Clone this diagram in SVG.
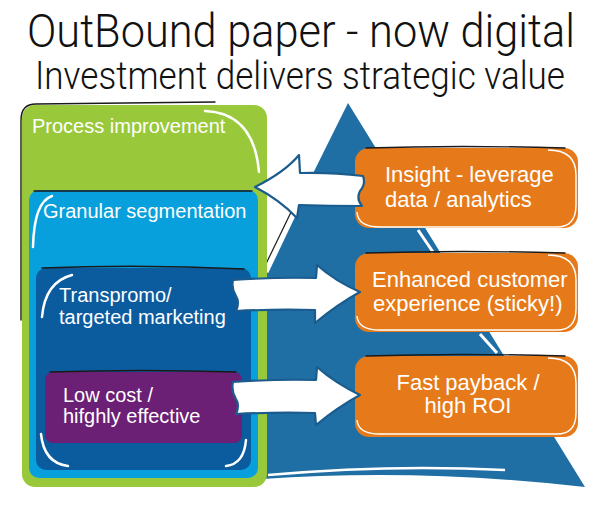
<svg xmlns="http://www.w3.org/2000/svg" width="600" height="509" viewBox="0 0 600 509">
<style>
.title{font-family:Roboto,"Open Sans","DejaVu Sans",sans-serif;font-weight:300;fill:#111;}
.lbl{font-family:"Liberation Sans",Arial,sans-serif;fill:#fff;font-size:20px;}
.olbl{font-family:"Liberation Sans",Arial,sans-serif;fill:#fff;font-size:22px;}
.gloss{fill:none;stroke:#fff;stroke-width:2.5;stroke-linecap:round;}
.shade{fill:none;stroke:#1a1a1a;stroke-width:1.4;stroke-linecap:round;}
.arrow{fill:#fff;stroke:#1b5c8e;stroke-width:2.2;stroke-linejoin:round;}
.ahl{fill:none;stroke:#7fb2d6;stroke-width:0.8;}
.obox{fill:#e67a1a;}
.oedge{fill:none;stroke:#fff;stroke-width:1.4;}
</style>
<rect width="600" height="509" fill="#fff"/>
<text class="title" x="27" y="47" font-size="46" textLength="548" lengthAdjust="spacingAndGlyphs">OutBound paper - now digital</text>
<text class="title" x="35" y="89" font-size="38" textLength="530" lengthAdjust="spacingAndGlyphs">Investment delivers strategic value</text>

<g id="triangle">
<path d="M348 103 L585 487 Q420 468 262 479 L262 276 Z" fill="#1f6fa5"/>
<path d="M297 207 L266 272" stroke="#fff" stroke-width="5" fill="none"/>
<path d="M294 206 L263 270" stroke="#1a1a1a" stroke-width="1.2" fill="none"/>
<path d="M418 230 L433 252" stroke="#fff" stroke-width="3" fill="none"/>
<path d="M480 334 L497 353" stroke="#fff" stroke-width="3" fill="none"/>
<path d="M268 475 Q390 464 505 470" stroke="#fff" stroke-width="2.5" fill="none"/>
</g>

<g id="process">
<rect x="22" y="105" width="245" height="382" rx="13" fill="#99c93a"/>
<path class="shade" d="M21 320 L21 120 Q21 104 36 104 L215 102"/>
<path class="gloss" d="M205 111 Q254 113 259 172"/>
<text class="lbl" x="32" y="133">Process improvement</text>
</g>

<g id="granular">
<rect x="29" y="190" width="229" height="288" rx="10" fill="#08a0dc"/>
<path class="shade" d="M34 191 L252 191"/>
<path class="gloss" d="M52 196 Q34 202 33 247"/>
<text class="lbl" x="43" y="218">Granular segmentation</text>
</g>

<g id="transpromo">
<rect x="36" y="268" width="215" height="202" rx="10" fill="#0b5b9f"/>
<path class="shade" d="M42 268 Q140 264 244 269"/>
<path class="gloss" d="M72 275 Q45 282 42 317"/>
<path class="gloss" d="M41 434 Q44 463 68 466"/>
<path class="gloss" d="M246 440 Q244 464 226 466"/>
<text class="lbl" x="59" y="302">Transpromo/</text>
<text class="lbl" x="59" y="324">targeted marketing</text>
</g>

<g id="lowcost">
<rect x="45" y="372" width="197" height="71" rx="8" fill="#6b2075"/>
<path class="shade" d="M50 372 Q140 369 236 372"/>
<text class="lbl" x="63" y="402">Low cost /</text>
<text class="lbl" x="63" y="423">hifghly effective</text>
</g>

<g id="insight">
<rect class="obox" x="355" y="148" width="223" height="80" rx="14"/>
<path class="shade" d="M366 148 Q460 145 565 148"/>
<path class="oedge" d="M548 150 Q576 150 576 175 L576 205 Q576 228 555 227 L380 227 Q358 227 357 212"/>
<text class="olbl" x="385" y="182">Insight - leverage</text>
<text class="olbl" x="385" y="207">data / analytics</text>
</g>

<g id="customer">
<rect class="obox" x="355" y="253" width="223" height="79" rx="14"/>
<path class="shade" d="M366 253 Q460 250 565 253"/>
<path class="oedge" d="M548 255 Q576 255 576 280 L576 309 Q576 331 555 330 L380 330 Q358 330 357 316"/>
<text class="olbl" x="372" y="287">Enhanced customer</text>
<text class="olbl" x="373" y="311">experience (sticky!)</text>
</g>

<g id="payback">
<rect class="obox" x="355" y="356" width="223" height="81" rx="14"/>
<path class="shade" d="M366 356 Q460 353 565 356"/>
<path class="oedge" d="M548 358 Q576 358 576 383 L576 413 Q576 435 555 434 L380 434 Q358 434 357 420"/>
<text class="olbl" x="468" y="390" text-anchor="middle">Fast payback /</text>
<text class="olbl" x="468" y="413" text-anchor="middle">high ROI</text>
</g>

<g id="connectors">
<path class="arrow" d="M363 176 Q330 172 300 173 L299 155 Q285 172 255 187 Q280 200 297 218 L299 205 Q330 206 362 206 Q356 199 360 191 Q366 184 363 176 Z"/>
<path class="arrow" d="M233 280 Q275 277 316 278 L317 265 Q335 281 360 292 Q338 304 315 323 L315 310 Q275 309 236 311 Q240 302 236 296 Q231 288 233 280 Z"/>
<path class="arrow" d="M233 382 Q275 379 316 380 L317 367 Q335 383 360 395 Q338 407 316 425 L315 413 Q275 412 236 414 Q240 405 236 399 Q231 391 233 382 Z"/>
</g>
</svg>
